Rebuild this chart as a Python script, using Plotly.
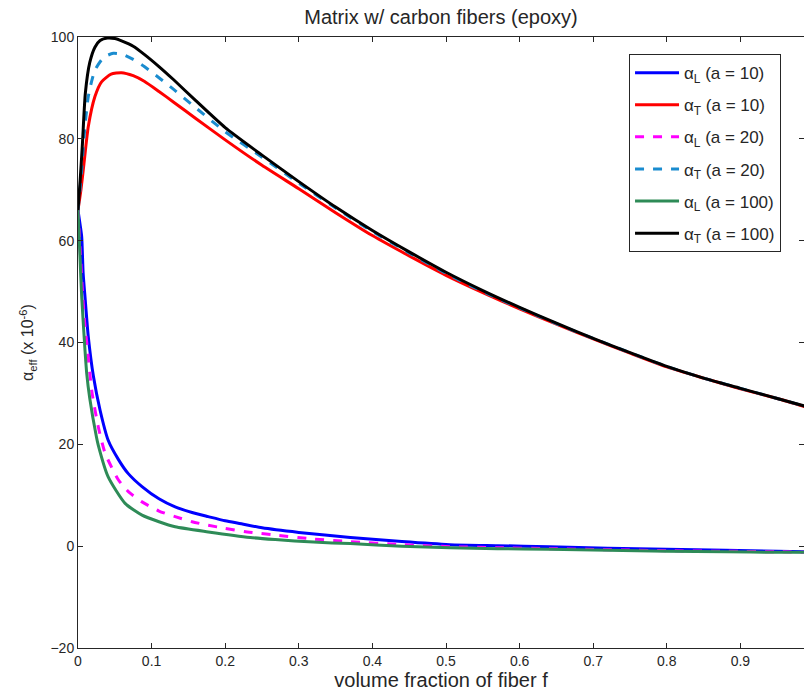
import plotly.graph_objects as go

# alpha_L (a = 10)
f_L10 = [0, 0.003, 0.005, 0.007, 0.0095, 0.014, 0.021, 0.03, 0.041, 0.055, 0.068, 0.087, 0.11, 0.132, 0.155,
         0.177, 0.2, 0.222, 0.25, 0.3, 0.37, 0.44, 0.505, 0.57, 0.64, 0.72, 0.8, 0.88, 0.95, 0.99]
a_L10 = [66, 63, 60.8, 53.6, 49, 41.1, 33.3, 26.7, 20.8, 17, 14.3, 11.7, 9.3, 7.7, 6.6,
         5.8, 5, 4.4, 3.6, 2.7, 1.7, 0.9, 0.3, 0.1, -0.1, -0.4, -0.6, -0.8, -1, -1.1]

# alpha_T (a = 10)
f_T10 = [0, 0.004, 0.008, 0.014, 0.023, 0.032, 0.045, 0.059, 0.075, 0.09, 0.11, 0.13, 0.16, 0.2, 0.25,
         0.3, 0.35, 0.4, 0.45, 0.5, 0.55, 0.6, 0.65, 0.7, 0.75, 0.8, 0.85, 0.9, 0.95, 0.99]
a_T10 = [66, 70, 75, 82.4, 88.3, 91.2, 92.7, 93, 92.4, 91.3, 89.3, 87.2, 84, 79.8, 74.8,
         70.2, 65.5, 61, 57, 53.2, 49.8, 46.6, 43.6, 40.7, 37.9, 35.2, 33, 30.9, 29, 27.3]

# alpha_L (a = 20)
f_L20 = [0, 0.003, 0.006, 0.009, 0.013, 0.0186, 0.0276, 0.037, 0.055, 0.07, 0.087, 0.11, 0.132, 0.155,
         0.177, 0.2, 0.23, 0.268, 0.32, 0.37, 0.44, 0.505, 0.57, 0.64, 0.72, 0.8, 0.88, 0.95, 0.99]
a_L20 = [66, 58, 50, 44, 38.5, 30.6, 23.4, 18.2, 13, 10.5, 8.7, 6.9, 5.8, 4.8,
         4.1, 3.5, 2.8, 2.2, 1.4, 0.9, 0.3, -0.1, -0.3, -0.5, -0.7, -0.9, -1, -1.1, -1.2]

# alpha_T (a = 20)
f_T20 = [0, 0.004, 0.008, 0.014, 0.023, 0.035, 0.048, 0.06, 0.075, 0.09, 0.11, 0.13, 0.16, 0.2, 0.25,
         0.3, 0.35, 0.4, 0.45, 0.5, 0.55, 0.6, 0.65, 0.7, 0.75, 0.8, 0.85, 0.9, 0.95, 0.99]
a_T20 = [66, 72, 80, 88.3, 93.5, 96, 96.8, 96.6, 95.6, 94.2, 92, 89.7, 86.1, 81.4, 76.4,
         71.3, 66.4, 61.8, 57.6, 53.6, 50, 46.8, 43.7, 40.8, 38, 35.3, 33, 31, 29, 27.4]

# alpha_L (a = 100)
f_L100 = [0, 0.0027, 0.005, 0.0095, 0.0118, 0.016, 0.025, 0.0276, 0.041, 0.064, 0.087, 0.11, 0.132,
          0.177, 0.234, 0.268, 0.32, 0.37, 0.44, 0.505, 0.57, 0.64, 0.72, 0.8, 0.88, 0.95, 0.99]
a_L100 = [66, 56.8, 49, 38.5, 34, 29, 21.5, 19.8, 13.6, 8.4, 6.1, 4.8, 3.8,
          2.8, 1.7, 1.3, 0.8, 0.5, 0, -0.3, -0.5, -0.6, -0.8, -1, -1.1, -1.2, -1.2]

# alpha_T (a = 100)
f_T100 = [0, 0.003, 0.006, 0.01, 0.016, 0.023, 0.03, 0.04, 0.05, 0.06, 0.075, 0.09, 0.11, 0.13, 0.16,
          0.2, 0.25, 0.3, 0.35, 0.4, 0.45, 0.5, 0.55, 0.6, 0.65, 0.7, 0.75, 0.8, 0.85, 0.9, 0.95, 0.99]
a_T100 = [66, 72, 79, 89, 95, 98, 99.3, 99.8, 99.7, 99.2, 98.2, 96.6, 94.2, 91.6, 87.5,
          82.2, 76.8, 71.6, 66.6, 62, 57.8, 53.8, 50.2, 46.9, 43.8, 40.8, 38, 35.3, 33, 31, 29, 27.4]

x_ticks = [0, 0.1, 0.2, 0.3, 0.4, 0.5, 0.6, 0.7, 0.8, 0.9]
y_ticks = [-20, 0, 20, 40, 60, 80, 100]

series = [
    ("α<sub>L</sub> (a = 10)", f_L10, a_L10, "#0000ff", "solid"),
    ("α<sub>T</sub> (a = 10)", f_T10, a_T10, "#ff0000", "solid"),
    ("α<sub>L</sub> (a = 20)", f_L20, a_L20, "#ff00ff", "dash"),
    ("α<sub>T</sub> (a = 20)", f_T20, a_T20, "#1a8ccf", "dash"),
    ("α<sub>L</sub> (a = 100)", f_L100, a_L100, "#2e8b57", "solid"),
    ("α<sub>T</sub> (a = 100)", f_T100, a_T100, "#000000", "solid"),
]

FONT = "Arial, Liberation Sans, Helvetica, sans-serif"

fig = go.Figure()
for i, (name, xs, ys, col, dash) in enumerate(series):
    fig.add_trace(go.Scatter(x=xs, y=ys, mode="lines", name=name, legendgroup=f"g{i}",
                             line=dict(color=col, width=3, dash=dash, shape="spline", smoothing=0.6)))

axis_common = dict(showline=True, linecolor="#262626", linewidth=1, mirror="ticks",
                   ticks="inside", ticklen=5, tickcolor="#262626", showgrid=False, zeroline=False,
                   tickfont=dict(family=FONT, size=14, color="#262626"))

fig.update_layout(
    width=804, height=695,
    margin=dict(l=78, r=0, t=37, b=47),
    paper_bgcolor="white", plot_bgcolor="white",
    font=dict(family=FONT, color="#262626"),
    title=dict(text="Matrix w/ carbon fibers (epoxy)", x=0.5, xref="paper", xanchor="center",
               y=1 - 17 / 695, yanchor="middle", font=dict(size=20, color="#262626")),
    xaxis=dict(range=[0, 0.9864], tickvals=x_ticks, ticktext=[str(v) for v in x_ticks],
               title=dict(text="volume fraction of fiber f", font=dict(size=20), standoff=4),
               **axis_common),
    yaxis=dict(range=[-20, 100], tickvals=y_ticks,
               title=dict(text="α<sub>eff</sub> (x 10<sup>-6</sup>)", font=dict(size=16), standoff=12),
               **axis_common),
    legend=dict(x=0.759, y=0.972, xanchor="left", yanchor="top", bgcolor="white",
                bordercolor="#262626", borderwidth=1, font=dict(family=FONT, size=17, color="#262626"),
                itemwidth=44, tracegroupgap=7),
    showlegend=True,
)

fig.write_html("out.html")
